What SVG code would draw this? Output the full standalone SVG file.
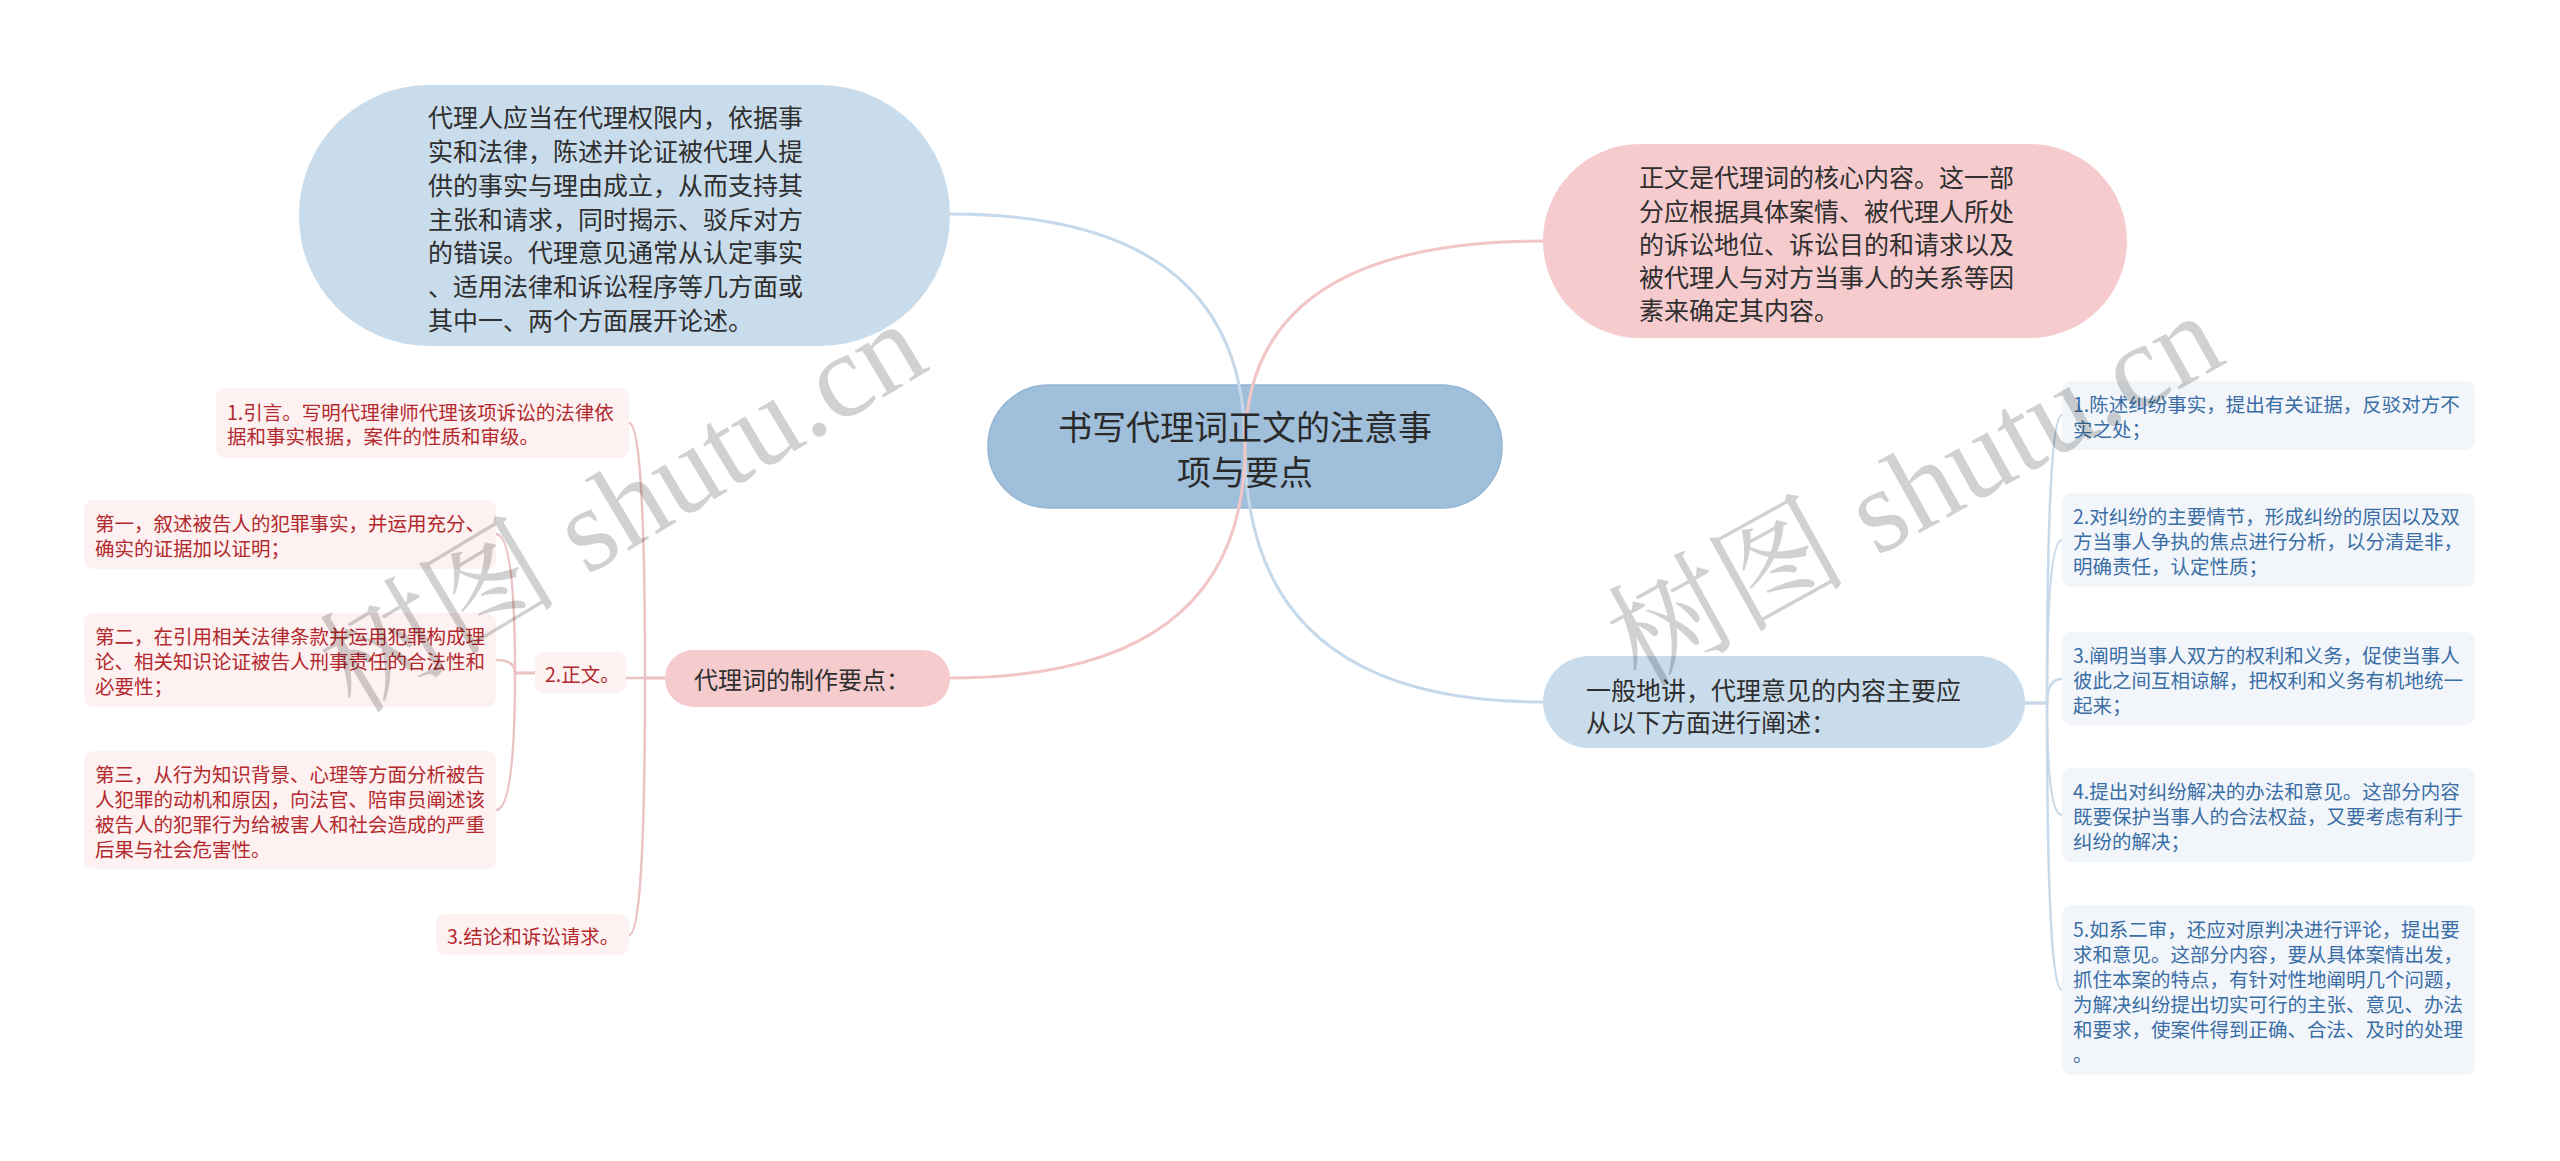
<svg xmlns="http://www.w3.org/2000/svg" width="2560" height="1161" viewBox="0 0 2560 1161">
<style>
text{font-family:"Noto Sans CJK SC","Noto Sans",sans-serif;dominant-baseline:central}
.big{font-size:25px;fill:#2f2f2f}
.ctr{font-size:34px;fill:#2a2a2a;text-anchor:middle}
.sl{font-size:19.5px;fill:#b3292d}
.sr{font-size:19.5px;fill:#3a6ea5}
.bluebg{fill:#c9dcec}
.pinkbg{fill:#f5cbcd}
.lbox{fill:#fdf1f1}
.rbox{fill:#f2f6fb}
.cb{fill:none;stroke:#c6d9ea;stroke-width:3}
.cp{fill:none;stroke:#f2c5c7;stroke-width:3}
.bp{fill:none;stroke:#ebc3c4;stroke-width:2.5}
.bb{fill:none;stroke:#c8d9ea;stroke-width:2.5}
.wm{font-family:"Liberation Serif","Noto Serif CJK SC",serif;font-size:120px;fill:#000;fill-opacity:0.18;dominant-baseline:auto}
</style>
<rect width="2560" height="1161" fill="#ffffff"/>

<g id="center">
<rect x="988" y="385" width="514" height="123" rx="61" fill="#a0bfdb" stroke="#94b5d3" stroke-width="1.5"/>
</g>

<g id="connectors">
<path class="cb" d="M1245,446 Q1245,214 950,214"/>
<path class="cb" d="M1245,446 Q1245,702 1543,702"/>
<path class="cp" d="M1245,446 Q1245,241 1543,241"/>
<path class="cp" d="M1245,446 Q1245,678 950,678"/>
<path class="bp" d="M665,678 H645 Q645,423 629,423"/>
<path class="bp" d="M665,678 H626"/>
<path class="bp" d="M665,678 H645 Q645,935 629,935"/>
<path class="bp" d="M535,673 H515 Q515,534 496,534"/>
<path class="bp" d="M535,673 H515 Q515,660 496,660"/>
<path class="bp" d="M535,673 H515 Q515,810 496,810"/>
<path class="bb" d="M2025,703 H2047 Q2047,415 2062,415"/>
<path class="bb" d="M2025,703 H2047 Q2047,540 2062,540"/>
<path class="bb" d="M2025,703 H2047 Q2047,679 2062,679"/>
<path class="bb" d="M2025,703 H2047 Q2047,815 2062,815"/>
<path class="bb" d="M2025,703 H2047 Q2047,990 2062,990"/>
</g>

<g id="center-label">
<text class="ctr"><tspan x="1245" y="425">书写代理词正文的注意事</tspan><tspan x="1245" y="470">项与要点</tspan></text>
</g>

<g id="n-topleft">
<rect class="bluebg" x="299" y="85" width="651" height="261" rx="130"/>
<text class="big"><tspan x="428" y="116">代理人应当在代理权限内，依据事</tspan><tspan x="428" y="150">实和法律，陈述并论证被代理人提</tspan><tspan x="428" y="184">供的事实与理由成立，从而支持其</tspan><tspan x="428" y="218">主张和请求，同时揭示、驳斥对方</tspan><tspan x="428" y="251">的错误。代理意见通常从认定事实</tspan><tspan x="428" y="285">、适用法律和诉讼程序等几方面或</tspan><tspan x="428" y="319">其中一、两个方面展开论述。</tspan></text>
</g>

<g id="n-topright">
<rect class="pinkbg" x="1543" y="144" width="584" height="194" rx="97"/>
<text class="big"><tspan x="1639" y="176">正文是代理词的核心内容。这一部</tspan><tspan x="1639" y="210">分应根据具体案情、被代理人所处</tspan><tspan x="1639" y="243">的诉讼地位、诉讼目的和请求以及</tspan><tspan x="1639" y="276">被代理人与对方当事人的关系等因</tspan><tspan x="1639" y="309">素来确定其内容。</tspan></text>
</g>

<g id="n-leftmid">
<rect class="pinkbg" x="665" y="650" width="285" height="57" rx="28"/>
<text class="big" x="694" y="678" style="font-size:24px">代理词的制作要点：</text>
</g>

<g id="n-rightmid">
<rect class="bluebg" x="1543" y="656" width="482" height="92" rx="46"/>
<text class="big"><tspan x="1586" y="689">一般地讲，代理意见的内容主要应</tspan><tspan x="1586" y="721">从以下方面进行阐述：</tspan></text>
</g>

<g id="l-1">
<rect class="lbox" x="216" y="388" width="413" height="70" rx="9"/>
<text class="sl"><tspan x="227" y="411">1.引言。写明代理律师代理该项诉讼的法律依</tspan><tspan x="227" y="435">据和事实根据，案件的性质和审级。</tspan></text>
</g>
<g id="l-2">
<rect class="lbox" x="535" y="652" width="91" height="41" rx="9"/>
<text class="sl" x="545" y="673">2.正文。</text>
</g>
<g id="l-2a">
<rect class="lbox" x="84" y="500" width="412" height="69" rx="9"/>
<text class="sl"><tspan x="95" y="522">第一，叙述被告人的犯罪事实，并运用充分、</tspan><tspan x="95" y="547">确实的证据加以证明；</tspan></text>
</g>
<g id="l-2b">
<rect class="lbox" x="84" y="613" width="412" height="94" rx="9"/>
<text class="sl"><tspan x="95" y="635">第二，在引用相关法律条款并运用犯罪构成理</tspan><tspan x="95" y="660">论、相关知识论证被告人刑事责任的合法性和</tspan><tspan x="95" y="685">必要性；</tspan></text>
</g>
<g id="l-2c">
<rect class="lbox" x="84" y="751" width="412" height="118" rx="9"/>
<text class="sl"><tspan x="95" y="773">第三，从行为知识背景、心理等方面分析被告</tspan><tspan x="95" y="798">人犯罪的动机和原因，向法官、陪审员阐述该</tspan><tspan x="95" y="823">被告人的犯罪行为给被害人和社会造成的严重</tspan><tspan x="95" y="848">后果与社会危害性。</tspan></text>
</g>
<g id="l-3">
<rect class="lbox" x="436" y="914" width="193" height="41" rx="9"/>
<text class="sl" x="447" y="935">3.结论和诉讼请求。</text>
</g>

<g id="r-1">
<rect class="rbox" x="2062" y="381" width="413" height="69" rx="9"/>
<text class="sr"><tspan x="2073" y="403">1.陈述纠纷事实，提出有关证据，反驳对方不</tspan><tspan x="2073" y="428">实之处；</tspan></text>
</g>
<g id="r-2">
<rect class="rbox" x="2062" y="493" width="413" height="94" rx="9"/>
<text class="sr"><tspan x="2073" y="515">2.对纠纷的主要情节，形成纠纷的原因以及双</tspan><tspan x="2073" y="540">方当事人争执的焦点进行分析，以分清是非，</tspan><tspan x="2073" y="565">明确责任，认定性质；</tspan></text>
</g>
<g id="r-3">
<rect class="rbox" x="2062" y="632" width="413" height="93" rx="9"/>
<text class="sr"><tspan x="2073" y="654">3.阐明当事人双方的权利和义务，促使当事人</tspan><tspan x="2073" y="679">彼此之间互相谅解，把权利和义务有机地统一</tspan><tspan x="2073" y="704">起来；</tspan></text>
</g>
<g id="r-4">
<rect class="rbox" x="2062" y="768" width="413" height="94" rx="9"/>
<text class="sr"><tspan x="2073" y="790">4.提出对纠纷解决的办法和意见。这部分内容</tspan><tspan x="2073" y="815">既要保护当事人的合法权益，又要考虑有利于</tspan><tspan x="2073" y="840">纠纷的解决；</tspan></text>
</g>
<g id="r-5">
<rect class="rbox" x="2062" y="905" width="413" height="170" rx="9"/>
<text class="sr"><tspan x="2073" y="928">5.如系二审，还应对原判决进行评论，提出要</tspan><tspan x="2073" y="953">求和意见。这部分内容，要从具体案情出发，</tspan><tspan x="2073" y="978">抓住本案的特点，有针对性地阐明几个问题，</tspan><tspan x="2073" y="1003">为解决纠纷提出切实可行的主张、意见、办法</tspan><tspan x="2073" y="1028">和要求，使案件得到正确、合法、及时的处理</tspan><tspan x="2073" y="1053">。</tspan></text>
</g>

<g id="watermark">
<text class="wm" transform="translate(355,715) rotate(-31)">树图 shutu.cn</text>
<text class="wm" transform="translate(1640,688) rotate(-29)">树图 shutu.cn</text>
</g>
</svg>
